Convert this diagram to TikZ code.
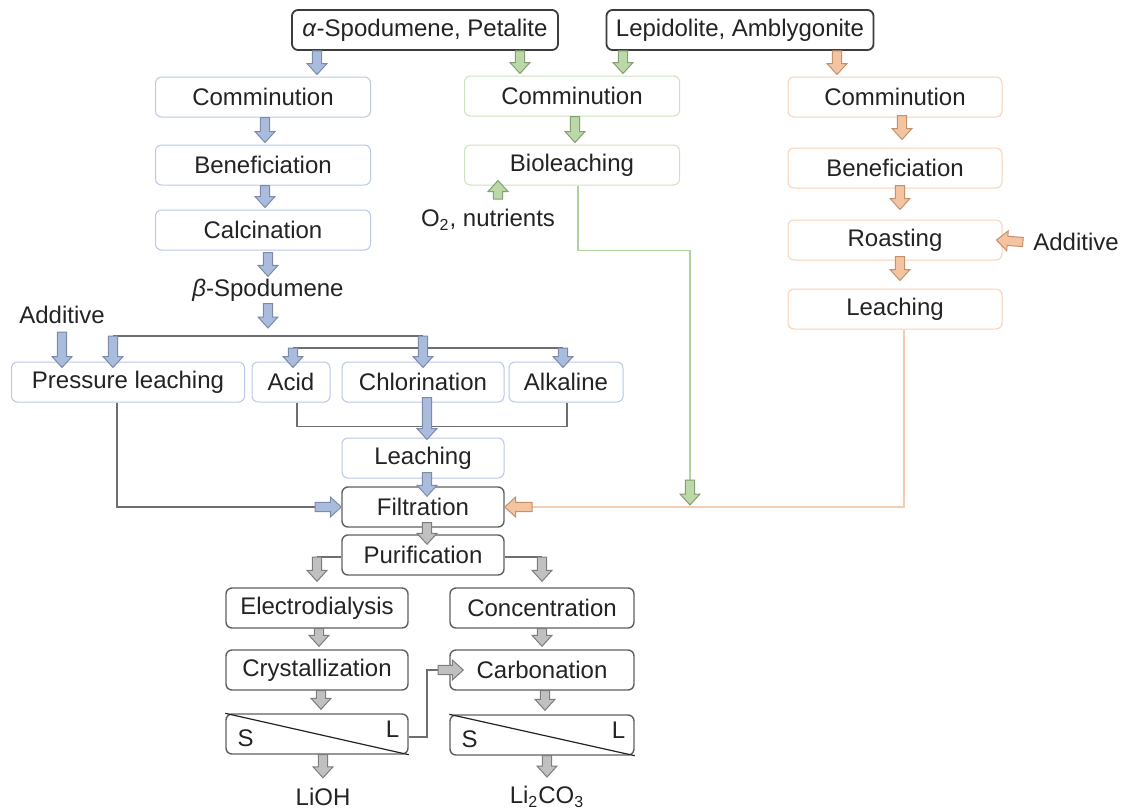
\documentclass[tikz,border=0pt]{standalone}
\usepackage{fontspec}
\setmainfont{Liberation Sans}
\usepackage{xcolor}
\usepackage{tikz}
\usetikzlibrary{calc, positioning}
\definecolor{txtcol}{RGB}{35,35,35}
\definecolor{oreedge}{RGB}{60,60,60}
\definecolor{blueedge}{RGB}{185,200,228}
\definecolor{greenedge}{RGB}{205,226,190}
\definecolor{orangeedge}{RGB}{246,208,185}
\definecolor{grayedge}{RGB}{95,95,95}
\definecolor{bluefill}{RGB}{170,188,222}
\definecolor{bluedraw}{RGB}{125,138,168}
\definecolor{greenfill}{RGB}{188,216,168}
\definecolor{greendraw}{RGB}{130,160,115}
\definecolor{orangefill}{RGB}{244,196,160}
\definecolor{orangedraw}{RGB}{195,145,110}
\definecolor{grayfill}{RGB}{192,192,192}
\definecolor{graydraw}{RGB}{125,125,125}
\definecolor{flowline}{RGB}{110,110,110}
\definecolor{greenline}{RGB}{178,210,155}
\definecolor{orangeline}{RGB}{246,204,176}
\tikzset{
    chart/.style={font=\fontsize{12}{14}\selectfont, text=txtcol},
    chart box/.style={rounded corners=3pt, draw, line width=0.5pt, align=center,
        minimum height=20pt, inner sep=1pt},
    ore box/.style={chart box, draw=oreedge, line width=0.9pt},
    blue box/.style={chart box, draw=blueedge},
    green box/.style={chart box, draw=greenedge},
    orange box/.style={chart box, draw=orangeedge},
    gray box/.style={chart box, draw=grayedge, line width=0.7pt},
    chart label/.style={inner sep=1pt},
    block arrow/.style={line width=0.5pt, line join=miter,
        to path={let \p1=(\tikztostart), \p2=(\tikztotarget),
            \n1={atan2(\y2-\y1,\x2-\x1)}, \n2={veclen(\x2-\x1,\y2-\y1)} in
            {[shift={(\p1)}, rotate=\n1]
             (0pt,2.3pt) -- ({\n2-5.5pt},2.3pt) -- ({\n2-5.5pt},5pt) -- (\n2,0pt)
             -- ({\n2-5.5pt},-5pt) -- ({\n2-5.5pt},-2.3pt) -- (0pt,-2.3pt) -- cycle}}},
    blue arrow/.style={block arrow, draw=bluedraw, fill=bluefill},
    green arrow/.style={block arrow, draw=greendraw, fill=greenfill},
    orange arrow/.style={block arrow, draw=orangedraw, fill=orangefill},
    gray arrow/.style={block arrow, draw=graydraw, fill=grayfill},
    blue line/.style={draw=flowline, line width=0.8pt},
    gray line/.style={draw=flowline, line width=0.8pt},
    green line/.style={draw=greenline, line width=0.8pt},
    orange line/.style={draw=orangeline, line width=0.8pt},
    sep line/.style={draw=txtcol, line width=0.6pt},
}

\begin{document}
\begin{tikzpicture}[chart, x=0.5pt, y=-0.5pt]
    \useasboundingbox (0,0) rectangle (1126,810);

    % Ores
    \node[ore box, minimum width=133pt] (alpha) at (425,30) {\textit{α}-Spodumene, Petalite};
    \node[ore box, minimum width=133.5pt] (lepi) at (740,30) {Lepidolite, Amblygonite};

    % Spodumene route
    \node[blue box, minimum width=107.5pt] (comm1) at (263,97) {Comminution};
    \node[blue box, minimum width=107.5pt] (bene1) at (263,165) {Beneficiation};
    \node[blue box, minimum width=107.5pt] (calc1) at (263,230) {Calcination};
    \node[chart label] (beta) at (268,290) {\textit{β}-Spodumene};
    \node[chart label] (add1) at (62,315) {Additive};
    \node[blue box, minimum width=116.5pt] (press) at (128,382) {Pressure leaching};
    \node[blue box, minimum width=39pt] (acid) at (291,382) {Acid};
    \node[blue box, minimum width=81pt] (chlor) at (423,382) {Chlorination};
    \node[blue box, minimum width=57pt] (alka) at (566,382) {Alkaline};
    \node[blue box, minimum width=81pt] (leach1) at (423,458) {Leaching};

    % Bioleaching route
    \node[green box, minimum width=107.5pt] (comm2) at (572,96) {Comminution};
    \node[green box, minimum width=107.5pt] (biol) at (572,165) {Bioleaching};
    \node[chart label] (o2) at (488,220) {O\textsubscript{2}, nutrients};

    % Lepidolite route
    \node[orange box, minimum width=107pt] (comm3) at (895,97) {Comminution};
    \node[orange box, minimum width=107pt] (bene3) at (895,168) {Beneficiation};
    \node[orange box, minimum width=107pt] (roast) at (895,240) {Roasting};
    \node[orange box, minimum width=107pt] (leach3) at (895,309) {Leaching};
    \node[chart label] (add3) at (1076,242) {Additive};

    % Common steps
    \node[gray box, minimum width=81pt] (filt) at (423,507) {Filtration};
    \node[gray box, minimum width=81pt] (puri) at (423,555) {Purification};
    \node[gray box, minimum width=91pt] (elec) at (317,608) {Electrodialysis};
    \node[gray box, minimum width=91pt] (crys) at (317,670) {Crystallization};
    \node[gray box, minimum width=91pt] (sep1) at (317,734) {};
    \node[gray box, minimum width=92pt] (conc) at (542,608) {Concentration};
    \node[gray box, minimum width=92pt] (carb) at (542,670) {Carbonation};
    \node[gray box, minimum width=92pt] (sep2) at (542,735) {};
    \node[chart label] (lioh) at (323,797) {LiOH};
    \node[chart label] (lico) at (547,797) {Li\textsubscript{2}CO\textsubscript{3}};

    % Solid/liquid separators
    \draw[sep line] (sep1.north west) -- (sep1.south east);
    \node[chart label, anchor=south west] (s1) at ([shift={(5pt,3pt)}]sep1.south west) {S};
    \node[chart label, anchor=north east] (l1) at ([shift={(-3.5pt,-2.5pt)}]sep1.north east) {L};
    \draw[sep line] (sep2.north west) -- (sep2.south east);
    \node[chart label, anchor=south west] (s2) at ([shift={(5pt,3pt)}]sep2.south west) {S};
    \node[chart label, anchor=north east] (l2) at ([shift={(-3.5pt,-2.5pt)}]sep2.north east) {L};

    % Junctions
    \coordinate (j1) at (268,328);
    \coordinate (busA) at (113,336);
    \coordinate (busB) at (423,336);
    \coordinate (busC) at (293,348);
    \coordinate (busD) at (563,348);
    \coordinate (pin) at (315,507);
    \coordinate (gin) at (690,480);
    \coordinate (gout) at (690,505);
    \coordinate (oin) at (532,507);
    \coordinate (pl) at (317,557);
    \coordinate (pr) at (542,557);
    \coordinate (cin) at (427,670);
    \coordinate (cs) at (438,670);

    % Lines
    \draw[blue line] (busA) -- (busB);
    \draw[blue line] (busC) -- (busD);
    \draw[blue line] ([xshift=3pt]acid.south) -- ++(0,24) -| ([xshift=0.5pt]alka.south);
    \draw[blue line] ([xshift=-5.5pt]press.south) |- (pin);
    \draw[green line] ([xshift=3pt]biol.south) -- ++(0,65) -| (gin);
    \draw[orange line] ([xshift=4.5pt]leach3.south) |- (oin);
    \draw[gray line] ([yshift=-1pt]puri.west) -- (pl);
    \draw[gray line] ([yshift=-1pt]puri.east) -- (pr);
    \draw[gray line] ([yshift=-1.5pt]sep1.east) -| (cin) -- (cs);

    % Arrows
    \draw[blue arrow] ([xshift=-54pt]alpha.south) to ([xshift=27pt,yshift=1pt]comm1.north);
    \draw[green arrow] ([xshift=47.5pt]alpha.south) to ([xshift=-26pt,yshift=1pt]comm2.north);
    \draw[green arrow] ([xshift=-58.5pt]lepi.south) to ([xshift=25.5pt,yshift=1pt]comm2.north);
    \draw[orange arrow] ([xshift=48.5pt]lepi.south) to ([xshift=-29pt,yshift=1pt]comm3.north);

    \draw[blue arrow] ([xshift=1pt]comm1.south) to ([xshift=1pt,yshift=1pt]bene1.north);
    \draw[blue arrow] ([xshift=1pt]bene1.south) to ([xshift=1pt,yshift=1pt]calc1.north);
    \draw[blue arrow] ([xshift=2.5pt,yshift=-1pt]calc1.south) to (beta.north);
    \draw[blue arrow] (beta.south) to (j1);
    \draw[blue arrow] ([yshift=-3pt]add1.south) to ([xshift=-33pt,yshift=-3pt]press.north);
    \draw[blue arrow] (busA) to ([xshift=-7.5pt,yshift=-3pt]press.north);
    \draw[blue arrow] (busB) to ([yshift=-3pt]chlor.north);
    \draw[blue arrow] (busC) to ([xshift=1pt,yshift=-3pt]acid.north);
    \draw[blue arrow] (busD) to ([xshift=-1.5pt,yshift=-3pt]alka.north);
    \draw[blue arrow] ([xshift=2pt,yshift=2.5pt]chlor.south) to ([xshift=2pt,yshift=-1pt]leach1.north);
    \draw[blue arrow] ([xshift=2pt,yshift=3pt]leach1.south) to ([xshift=2pt,yshift=-5pt]filt.north);
    \draw[blue arrow] (pin) to (filt.west);

    \draw[green arrow] ([xshift=1.5pt]comm2.south) to ([xshift=1.5pt,yshift=1pt]biol.north);
    \draw[green arrow] ([xshift=5pt,yshift=4pt]o2.north) to ([xshift=-37pt,yshift=2.5pt]biol.south);
    \draw[green arrow] (gin) to (gout);

    \draw[orange arrow] ([xshift=3.5pt,yshift=1pt]comm3.south) to ([xshift=3.5pt,yshift=4pt]bene3.north);
    \draw[orange arrow] ([xshift=2.5pt,yshift=1.5pt]bene3.south) to ([xshift=2.5pt,yshift=5pt]roast.north);
    \draw[orange arrow] ([xshift=2.5pt,yshift=2pt]roast.south) to ([xshift=2.5pt,yshift=4pt]leach3.north);
    \draw[orange arrow] ([xshift=-4pt]add3.west) to ([xshift=-3pt]roast.east);
    \draw[orange arrow] (oin) to (filt.east);

    \draw[gray arrow] ([xshift=2pt,yshift=2.5pt]filt.south) to ([xshift=2pt,yshift=-5pt]puri.north);
    \draw[gray arrow] (pl) to ([yshift=3pt]elec.north);
    \draw[gray arrow] (pr) to ([yshift=3pt]conc.north);
    \draw[gray arrow] ([xshift=1pt]elec.south) to ([xshift=1pt,yshift=1.5pt]crys.north);
    \draw[gray arrow] ([xshift=2pt]crys.south) to ([xshift=2pt,yshift=2pt]sep1.north);
    \draw[gray arrow] ([xshift=3pt]sep1.south) to ([yshift=4pt]lioh.north);
    \draw[gray arrow] (conc.south) to ([yshift=1.5pt]carb.north);
    \draw[gray arrow] ([xshift=1.5pt]carb.south) to ([xshift=1.5pt,yshift=2pt]sep2.north);
    \draw[gray arrow] ([xshift=2.5pt]sep2.south) to ([yshift=3.5pt]lico.north);
    \draw[gray arrow] (cs) to ([xshift=7pt]carb.west);

\end{tikzpicture}
\end{document}
